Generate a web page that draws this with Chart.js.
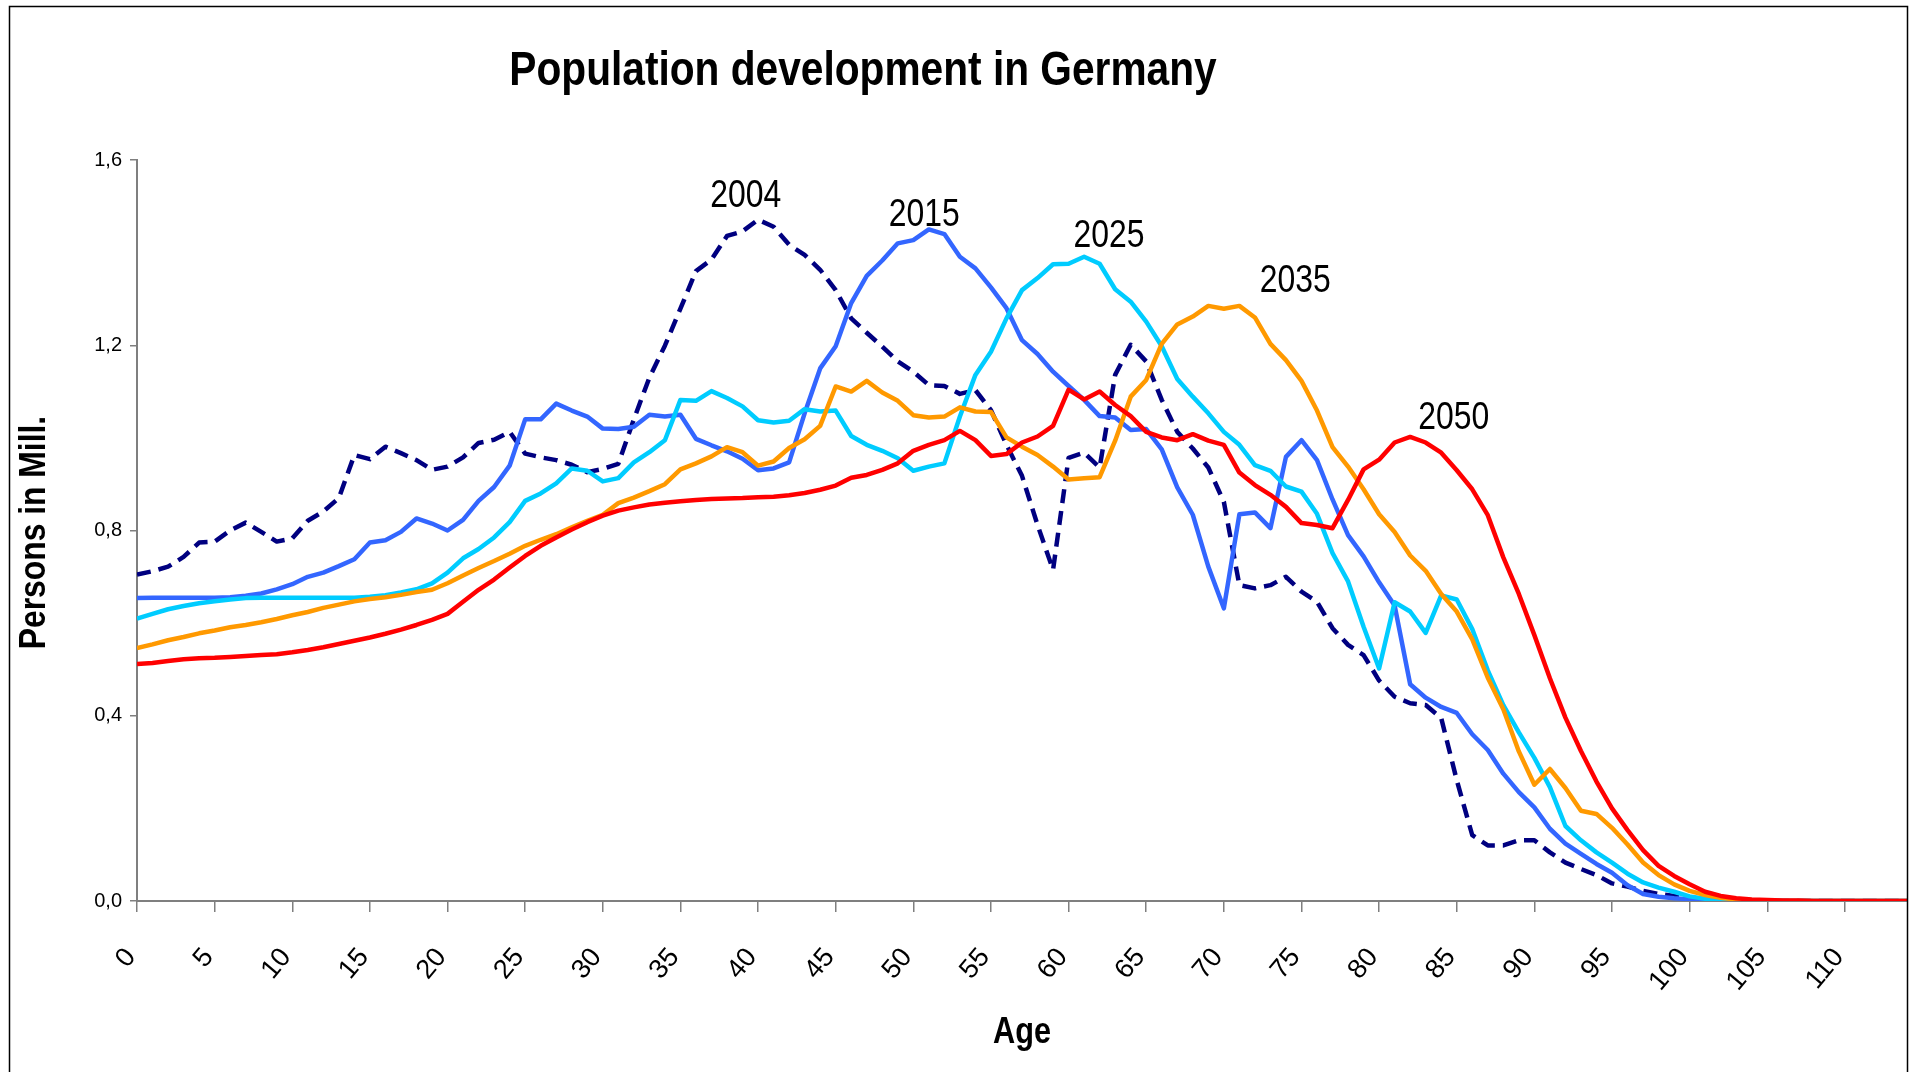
<!DOCTYPE html>
<html>
<head>
<meta charset="utf-8">
<title>Population development in Germany</title>
<script src="https://cdn.jsdelivr.net/npm/chart.js@4.4.1/dist/chart.umd.min.js"></script>
<style>
  html, body { margin: 0; padding: 0; background: #fff; }
  canvas { display: block; }
</style>
</head>
<body>
<canvas id="chart" width="1912" height="1072"></canvas>
<script>
// ages 0..114
const AGES = [
  0, 1, 2, 3, 4, 5, 6, 7, 8, 9, 10, 11, 12, 13, 14, 15, 16, 17, 18, 19,
  20, 21, 22, 23, 24, 25, 26, 27, 28, 29, 30, 31, 32, 33, 34, 35, 36, 37, 38, 39,
  40, 41, 42, 43, 44, 45, 46, 47, 48, 49, 50, 51, 52, 53, 54, 55, 56, 57, 58, 59,
  60, 61, 62, 63, 64, 65, 66, 67, 68, 69, 70, 71, 72, 73, 74, 75, 76, 77, 78, 79,
  80, 81, 82, 83, 84, 85, 86, 87, 88, 89, 90, 91, 92, 93, 94, 95, 96, 97, 98, 99,
  100, 101, 102, 103, 104, 105, 106, 107, 108, 109, 110, 111, 112, 113, 114
];

// persons in millions, per year of age
const POP_2004 = [
  0.705, 0.712, 0.722, 0.743, 0.774, 0.776, 0.800, 0.817, 0.797, 0.776,
  0.783, 0.821, 0.841, 0.870, 0.963, 0.954, 0.981, 0.967, 0.952, 0.931,
  0.938, 0.958, 0.989, 0.996, 1.013, 0.966, 0.958, 0.952, 0.942, 0.926,
  0.933, 0.944, 1.040, 1.130, 1.199, 1.279, 1.360, 1.385, 1.436, 1.446,
  1.471, 1.456, 1.417, 1.395, 1.363, 1.319, 1.258, 1.227, 1.197, 1.165,
  1.143, 1.114, 1.112, 1.095, 1.103, 1.060, 0.985, 0.918, 0.812, 0.715,
  0.957, 0.968, 0.936, 1.136, 1.201, 1.165, 1.082, 1.013, 0.977, 0.936,
  0.862, 0.682, 0.675, 0.682, 0.700, 0.668, 0.646, 0.589, 0.553, 0.531,
  0.476, 0.441, 0.427, 0.423, 0.395, 0.261, 0.142, 0.120, 0.120, 0.131,
  0.131, 0.105, 0.083, 0.069, 0.056, 0.038, 0.031, 0.022, 0.015, 0.011,
  0.006, 0.003, 0.001, 0.001, 0, 0, 0, 0, 0, 0,
  0, 0, 0, 0, 0
];
const POP_2015 = [
  0.654, 0.655, 0.655, 0.655, 0.655, 0.655, 0.656, 0.659, 0.664, 0.673,
  0.684, 0.700, 0.709, 0.723, 0.738, 0.774, 0.779, 0.797, 0.826, 0.815,
  0.800, 0.823, 0.864, 0.894, 0.940, 1.040, 1.040, 1.074, 1.059, 1.046,
  1.020, 1.019, 1.024, 1.050, 1.046, 1.050, 0.998, 0.984, 0.971, 0.955,
  0.930, 0.934, 0.947, 1.053, 1.150, 1.198, 1.291, 1.350, 1.383, 1.420,
  1.427, 1.450, 1.440, 1.391, 1.366, 1.325, 1.280, 1.211, 1.181, 1.143,
  1.112, 1.082, 1.047, 1.044, 1.017, 1.019, 0.975, 0.893, 0.834, 0.722,
  0.632, 0.835, 0.839, 0.805, 0.959, 0.995, 0.952, 0.867, 0.790, 0.744,
  0.688, 0.638, 0.468, 0.439, 0.419, 0.406, 0.360, 0.326, 0.275, 0.235,
  0.202, 0.156, 0.124, 0.102, 0.080, 0.061, 0.034, 0.015, 0.009, 0.006,
  0.004, 0.002, 0.001, 0, 0, 0, 0, 0, 0, 0,
  0, 0, 0, 0, 0
];
const POP_2025 = [
  0.610, 0.620, 0.630, 0.637, 0.643, 0.647, 0.651, 0.654, 0.655, 0.655,
  0.655, 0.655, 0.655, 0.655, 0.655, 0.657, 0.660, 0.666, 0.673, 0.686,
  0.709, 0.740, 0.760, 0.785, 0.818, 0.864, 0.880, 0.902, 0.934, 0.929,
  0.906, 0.913, 0.947, 0.969, 0.995, 1.082, 1.080, 1.101, 1.086, 1.068,
  1.038, 1.033, 1.037, 1.062, 1.057, 1.059, 1.004, 0.985, 0.972, 0.956,
  0.929, 0.938, 0.945, 1.046, 1.136, 1.186, 1.258, 1.319, 1.345, 1.375,
  1.376, 1.391, 1.376, 1.321, 1.294, 1.251, 1.198, 1.127, 1.089, 1.053,
  1.013, 0.985, 0.941, 0.929, 0.895, 0.884, 0.836, 0.751, 0.690, 0.592,
  0.502, 0.645, 0.625, 0.579, 0.660, 0.651, 0.587, 0.498, 0.423, 0.364,
  0.309, 0.246, 0.162, 0.131, 0.105, 0.083, 0.059, 0.040, 0.029, 0.020,
  0.010, 0.005, 0.002, 0.001, 0, 0, 0, 0, 0, 0,
  0, 0, 0, 0, 0
];
const POP_2035 = [
  0.546, 0.554, 0.563, 0.570, 0.578, 0.584, 0.591, 0.596, 0.602, 0.609,
  0.617, 0.624, 0.633, 0.640, 0.647, 0.652, 0.656, 0.661, 0.667, 0.672,
  0.686, 0.703, 0.719, 0.734, 0.750, 0.767, 0.780, 0.792, 0.807, 0.821,
  0.834, 0.859, 0.871, 0.885, 0.900, 0.932, 0.945, 0.960, 0.980, 0.969,
  0.940, 0.949, 0.978, 0.997, 1.026, 1.111, 1.100, 1.123, 1.098, 1.080,
  1.049, 1.044, 1.046, 1.066, 1.057, 1.056, 1.001, 0.981, 0.963, 0.938,
  0.910, 0.913, 0.915, 0.994, 1.089, 1.125, 1.203, 1.245, 1.262, 1.285,
  1.279, 1.285, 1.260, 1.203, 1.168, 1.123, 1.059, 0.980, 0.938, 0.889,
  0.835, 0.797, 0.746, 0.713, 0.663, 0.625, 0.565, 0.482, 0.414, 0.323,
  0.251, 0.285, 0.244, 0.195, 0.188, 0.158, 0.122, 0.083, 0.056, 0.036,
  0.022, 0.013, 0.007, 0.003, 0.001, 0, 0, 0, 0, 0,
  0, 0, 0, 0, 0
];
const POP_2050 = [
  0.512, 0.514, 0.518, 0.522, 0.524, 0.525, 0.527, 0.529, 0.531, 0.533,
  0.537, 0.542, 0.548, 0.555, 0.562, 0.569, 0.577, 0.586, 0.596, 0.607,
  0.620, 0.646, 0.672, 0.694, 0.720, 0.745, 0.767, 0.785, 0.802, 0.818,
  0.832, 0.843, 0.850, 0.856, 0.860, 0.863, 0.866, 0.868, 0.869, 0.870,
  0.872, 0.873, 0.876, 0.881, 0.888, 0.897, 0.914, 0.920, 0.931, 0.945,
  0.972, 0.985, 0.995, 1.015, 0.995, 0.961, 0.965, 0.990, 1.003, 1.026,
  1.104, 1.083, 1.100, 1.071, 1.047, 1.013, 1.001, 0.995, 1.008, 0.994,
  0.985, 0.925, 0.898, 0.877, 0.851, 0.816, 0.812, 0.805, 0.866, 0.932,
  0.953, 0.990, 1.002, 0.990, 0.968, 0.930, 0.889, 0.833, 0.742, 0.663,
  0.574, 0.481, 0.396, 0.324, 0.258, 0.200, 0.153, 0.110, 0.076, 0.054,
  0.036, 0.020, 0.011, 0.006, 0.003, 0.002, 0.001, 0.001, 0, 0,
  0, 0, 0, 0, 0
];

const YEARS = ["2004", "2015", "2025", "2035", "2050"];
const COLORS = ["#000080", "#3366FF", "#00CCFF", "#FF9900", "#FF0000"];
// where the year captions sit, in chart units (age, persons)
const LABEL_AGE = [39.2, 50.7, 62.6, 74.6, 84.8];
const LABEL_VAL = [1.527, 1.486, 1.440, 1.343, 1.047];

const TITLE = "Population development in Germany";
const X_TITLE = "Age";
const Y_TITLE = "Persons in Mill.";
const SANS = '"Liberation Sans", Arial, sans-serif';

function points(values) {
  return AGES.map((a, i) => ({ x: a, y: values[i] }));
}

// no narrow font installed, so squeeze the text horizontally instead
function squeezed(ctx, text, x, y, sx, angle = 0) {
  ctx.save();
  ctx.translate(x, y);
  ctx.rotate(angle);
  ctx.scale(sx, 1);
  ctx.fillText(text, 0, 0);
  ctx.restore();
}

// frame, titles and the year captions next to the curves
const overlay = {
  id: "overlay",
  afterDraw(chart) {
    const { ctx, chartArea: area, scales: { x, y } } = chart;
    ctx.save();
    ctx.strokeStyle = "#000";
    ctx.lineWidth = 1.5;
    ctx.strokeRect(9.5, 6.5, 1898, 1100);

    ctx.fillStyle = "#000";
    ctx.textAlign = "center";
    ctx.textBaseline = "alphabetic";
    ctx.font = `bold 49px ${SANS}`;
    squeezed(ctx, TITLE, 863, 85, 0.83);

    ctx.textBaseline = "middle";
    ctx.font = `bold 37px ${SANS}`;
    squeezed(ctx, X_TITLE, (area.left + area.right) / 2, 1033, 0.83);
    squeezed(ctx, Y_TITLE, 35, (area.top + area.bottom) / 2 + 2, 0.86, -Math.PI / 2);

    ctx.textBaseline = "alphabetic";
    ctx.font = `38px ${SANS}`;
    YEARS.forEach((yr, i) => {
      const px = x.getPixelForValue(LABEL_AGE[i]);
      const py = y.getPixelForValue(LABEL_VAL[i]);
      squeezed(ctx, yr, px, py + 13, 0.84);
    });
    ctx.restore();
  }
};

const datasets = [POP_2004, POP_2015, POP_2025, POP_2035, POP_2050].map((vals, i) => ({
  label: YEARS[i],
  data: points(vals),
  borderColor: COLORS[i],
  backgroundColor: COLORS[i],
  borderWidth: 4.5,
  borderDash: i === 0 ? [14, 8] : [],
  borderJoinStyle: "round",
  pointRadius: 0,
  tension: 0,
  fill: false,
  order: 5 - i // 2050 on top
}));

new Chart(document.getElementById("chart"), {
  type: "line",
  data: { datasets },
  options: {
    responsive: false,
    animation: false,
    devicePixelRatio: 1,
    layout: { padding: { top: 160, right: 5, left: 0, bottom: 0 } },
    plugins: {
      legend: { display: false },
      tooltip: { enabled: false }
    },
    scales: {
      x: {
        type: "linear",
        min: 0,
        max: 114,
        afterFit(s) { s.height = 171; s.paddingLeft = 0; s.paddingRight = 0; },
        border: { display: true, color: "#7f7f7f", width: 2 },
        grid: { drawOnChartArea: false, drawTicks: true, tickLength: 11, color: "#7f7f7f", lineWidth: 1.5 },
        ticks: {
          stepSize: 5,
          includeBounds: false,
          autoSkip: false,
          minRotation: 50,
          maxRotation: 50,
          padding: 30,
          labelOffset: -6,
          color: "#000",
          font: { family: SANS, size: 27 }
        }
      },
      y: {
        min: 0,
        max: 1.6,
        afterFit(s) { s.width = 137; },
        border: { display: true, color: "#7f7f7f", width: 2 },
        grid: { drawOnChartArea: false, drawTicks: true, tickLength: 7, color: "#7f7f7f", lineWidth: 1.5 },
        ticks: {
          stepSize: 0.4,
          padding: 8,
          color: "#000",
          font: { family: SANS, size: 20 },
          callback: v => v.toFixed(1).replace(".", ",")
        }
      }
    }
  },
  plugins: [overlay]
});
</script>
</body>
</html>
